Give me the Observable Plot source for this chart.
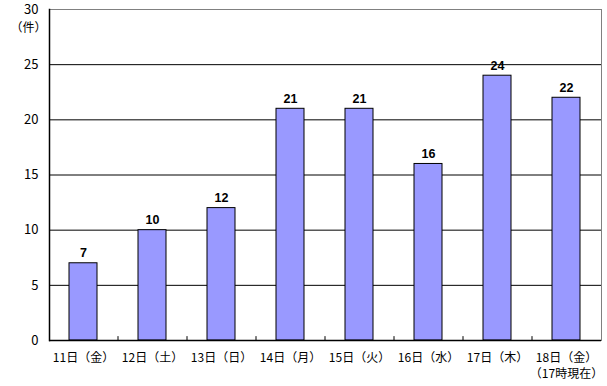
<!DOCTYPE html>
<html><head><meta charset="utf-8">
<script src="https://cdn.jsdelivr.net/npm/d3@7"></script>
<script src="https://cdn.jsdelivr.net/npm/@observablehq/plot@0.6"></script>
<style>body{margin:0;background:#fff}</style>
</head><body><div id="c"></div>
<script>
const days = ["11日（金）","12日（土）","13日（日）","14日（月）","15日（火）","16日（水）","17日（木）","18日（金）\n（17時現在）"];
const counts = [7,10,12,21,21,16,24,22];
const yTicks = [0,5,10,15,20,25,30];
const gridTicks = [5,10,15,20,25];
const unitLabel = "（件）";
const data = days.map((d,i)=>({day:d, n:counts[i]}));
const font = "'MS PGothic','Noto Sans CJK JP',sans-serif";
const chart = Plot.plot({
  width:607, height:386,
  marginLeft:49, marginRight:6, marginTop:9, marginBottom:46,
  style:{fontFamily:font, fontSize:"12px", background:"#fff", color:"#000"},
  x:{domain:days, paddingInner:0.594, paddingOuter:0.297, label:null},
  y:{domain:[0,30], label:null},
  marks:[
    Plot.frame({stroke:"#808080"}),
    Plot.ruleY(gridTicks, {stroke:"#000"}),
    Plot.barY(data, {x:"day", y:"n", fill:"#9999FF", stroke:"#000", strokeWidth:1}),
    Plot.ruleY([0], {stroke:"#000", strokeWidth:1.5}),
    Plot.frame({anchor:"left", stroke:"#000", strokeWidth:1.5}),
    Plot.ruleX(days.slice(0,-1), {x:d=>d, dx:34.5, y1:0, y2:0.35, stroke:"#000"}),
    Plot.axisY({ticks:yTicks, tickSize:0, tickPadding:11, fontSize:13, fontFamily:font}),
    Plot.axisX({tickSize:0, tickPadding:10, fontSize:12, fontFamily:font, lineHeight:1.35}),
    Plot.text(data, {x:"day", y:"n", text:d=>String(d.n), lineAnchor:"bottom", dy:-6,
      fontWeight:"bold", fontSize:12.5, fontFamily:"'Liberation Sans',Arial,sans-serif"}),
    Plot.text([unitLabel], {text:d=>d, frameAnchor:"top-left", dx:-21, dy:14, textAnchor:"middle", fontSize:12, fontFamily:font})
  ]
});
document.getElementById("c").appendChild(chart);
</script></body></html>
